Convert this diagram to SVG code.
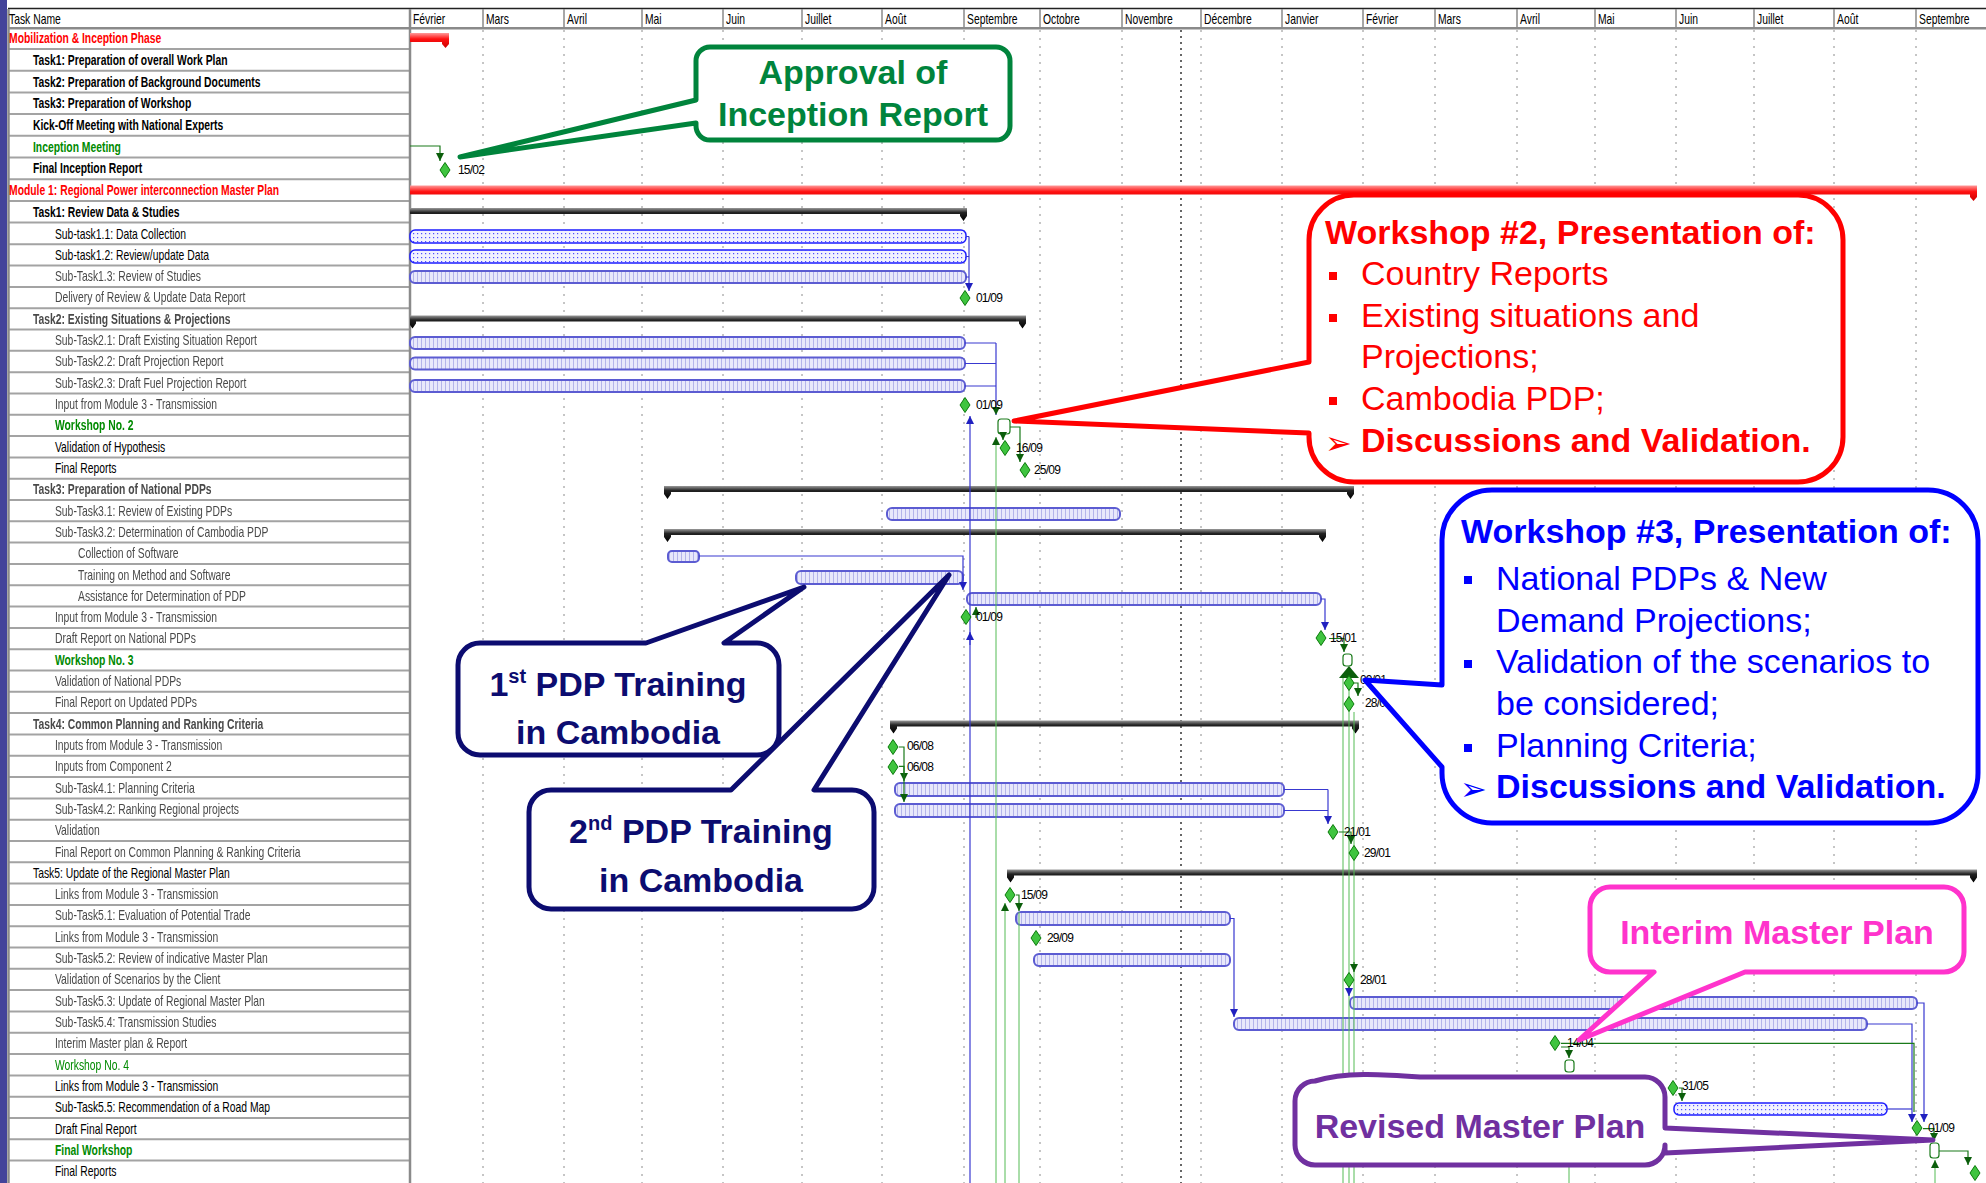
<svg xmlns="http://www.w3.org/2000/svg" width="1986" height="1183" viewBox="0 0 1986 1183">
<defs>
<style>
text{font-family:"Liberation Sans",Arial,sans-serif}
.tn{font-size:14px}
.b{font-weight:bold}
.red{fill:#ff0000}
.grn{fill:#008a00}
.dim{fill:#4a4a4a;filter:url(#soft)}
.mon{font-size:14px;fill:#000}
.dl{font-size:12px;fill:#000;letter-spacing:-0.8px}
.grid{fill:none;stroke:#8c8c8c;stroke-width:1;stroke-dasharray:2 6}
.rowl{fill:none;stroke:#a3a3a3;stroke-width:2}
.bar{stroke:#1e1eff;stroke-width:1.5;fill:url(#dots)}
.barS{stroke:#5b5bd2;stroke-width:2;fill:url(#hatch);filter:url(#soft)}
.sum{fill:url(#gBlack)}
.sumR{fill:url(#gRed)}
.lnB{fill:none;stroke:#3838d0;stroke-width:1.2}
.lnG{fill:none;stroke:#1a7a1a;stroke-width:1.2}
.lnLG{fill:none;stroke:#55bb55;stroke-width:1}
.co{fill:#fff;stroke-width:5;stroke-linejoin:round}
.ct{font-size:34px;font-weight:bold}
.cr{font-size:34px}
.arw{font-family:"DejaVu Sans",sans-serif;font-size:32px}
</style>
<filter id="soft" x="-5%" y="-20%" width="110%" height="140%"><feGaussianBlur stdDeviation="0.6"/></filter>
<pattern id="dots" width="4" height="4" patternUnits="userSpaceOnUse"><rect width="4" height="4" fill="#f2f2ff"/><rect x="1" y="1" width="1.2" height="1.2" fill="#5050ff"/></pattern>
<pattern id="hatch" width="4" height="4" patternUnits="userSpaceOnUse"><rect width="4" height="4" fill="#e8e8fb"/><rect x="1" width="1" height="4" fill="#b4b4ea"/></pattern>
<linearGradient id="gBlack" x1="0" y1="0" x2="0" y2="1"><stop offset="0" stop-color="#9a9a9a"/><stop offset="0.35" stop-color="#222"/><stop offset="1" stop-color="#000"/></linearGradient>
<linearGradient id="gRed" x1="0" y1="0" x2="0" y2="1"><stop offset="0" stop-color="#ff9a9a"/><stop offset="0.4" stop-color="#ff1010"/><stop offset="1" stop-color="#cc0000"/></linearGradient>
<marker id="aB" viewBox="0 0 10 10" refX="10" refY="5" markerWidth="8" markerHeight="8" markerUnits="userSpaceOnUse" orient="auto"><path d="M0,0 L10,5 L0,10 Z" fill="#2020c0"/></marker>
<marker id="aG" viewBox="0 0 10 10" refX="10" refY="5" markerWidth="8" markerHeight="8" markerUnits="userSpaceOnUse" orient="auto"><path d="M0,0 L10,5 L0,10 Z" fill="#0b5e0b"/></marker>
<path id="ms" d="M0,-7.5 L5,0 L0,7.5 L-5,0 Z" fill="#3fc43f" stroke="#0a7a0a" stroke-width="1"/>
</defs>

<rect width="1986" height="1183" fill="#fff"/>
<rect x="0" y="0" width="7" height="1183" fill="#43439a"/>

<!-- table frame and row rules -->
<g id="table-frame">
<path d="M8,8.5H1986" stroke="#222" stroke-width="1.5" fill="none"/>
<path d="M8,28.3H1986" stroke="#8a8a8a" stroke-width="2.5" fill="none"/>
<path class="rowl" d="M8,49H410M8,70.7H410M8,92.4H410M8,114.1H410M8,135.8H410M8,157.5H410M8,179.2H410M8,200.9H410M8,222.6H410M8,244.3H410M8,265.6H410M8,286.9H410M8,308.2H410M8,329.5H410M8,350.8H410M8,372.2H410M8,393.5H410M8,414.8H410M8,436.1H410M8,457.4H410M8,478.7H410M8,500H410M8,521.3H410M8,542.6H410M8,563.9H410M8,585.3H410M8,606.6H410M8,627.9H410M8,649.2H410M8,670.5H410M8,691.8H410M8,713.1H410M8,734.4H410M8,755.7H410M8,777H410M8,798.4H410M8,819.7H410M8,841H410M8,862.3H410M8,883.6H410M8,904.9H410M8,926.2H410M8,947.5H410M8,968.8H410M8,990.1H410M8,1011.5H410M8,1032.8H410M8,1054.1H410M8,1075.4H410M8,1096.7H410M8,1118H410M8,1139.3H410M8,1160.6H410"/>
<path d="M8.5,9V1183M410,9V1183" stroke="#8a8a8a" stroke-width="2.5" fill="none"/>
<path d="M483,9V28M564,9V28M642,9V28M723,9V28M802,9V28M882,9V28M964,9V28M1040,9V28M1122,9V28M1201,9V28M1282,9V28M1363,9V28M1435,9V28M1517,9V28M1595,9V28M1676,9V28M1754,9V28M1834,9V28M1916,9V28" stroke="#8a8a8a" stroke-width="1.5" fill="none"/>
<path class="grid" d="M483,30V1183M564,30V1183M642,30V1183M723,30V1183M802,30V1183M882,30V1183M964,30V1183M1040,30V1183M1122,30V1183M1201,30V1183M1282,30V1183M1363,30V1183M1435,30V1183M1517,30V1183M1595,30V1183M1676,30V1183M1754,30V1183M1834,30V1183M1916,30V1183"/>
<path d="M1181,30V1183" stroke="#666" stroke-width="2" stroke-dasharray="2 4" fill="none"/>
</g>

<!-- month header -->
<g id="timescale">
<text class="mon" transform="translate(413,24) scale(0.74,1)">Février</text>
<text class="mon" transform="translate(486,24) scale(0.74,1)">Mars</text>
<text class="mon" transform="translate(567,24) scale(0.74,1)">Avril</text>
<text class="mon" transform="translate(645,24) scale(0.74,1)">Mai</text>
<text class="mon" transform="translate(726,24) scale(0.74,1)">Juin</text>
<text class="mon" transform="translate(805,24) scale(0.74,1)">Juillet</text>
<text class="mon" transform="translate(885,24) scale(0.74,1)">Août</text>
<text class="mon" transform="translate(967,24) scale(0.74,1)">Septembre</text>
<text class="mon" transform="translate(1043,24) scale(0.74,1)">Octobre</text>
<text class="mon" transform="translate(1125,24) scale(0.74,1)">Novembre</text>
<text class="mon" transform="translate(1204,24) scale(0.74,1)">Décembre</text>
<text class="mon" transform="translate(1285,24) scale(0.74,1)">Janvier</text>
<text class="mon" transform="translate(1366,24) scale(0.74,1)">Février</text>
<text class="mon" transform="translate(1438,24) scale(0.74,1)">Mars</text>
<text class="mon" transform="translate(1520,24) scale(0.74,1)">Avril</text>
<text class="mon" transform="translate(1598,24) scale(0.74,1)">Mai</text>
<text class="mon" transform="translate(1679,24) scale(0.74,1)">Juin</text>
<text class="mon" transform="translate(1757,24) scale(0.74,1)">Juillet</text>
<text class="mon" transform="translate(1837,24) scale(0.74,1)">Août</text>
<text class="mon" transform="translate(1919,24) scale(0.74,1)">Septembre</text>
</g>

<!-- task names (condensed) -->
<g id="task-names" transform="scale(0.74,1)">
<text class="tn" x="12.2" y="24">Task Name</text>
<text class="tn b red" x="12.2" y="43.3">Mobilization &amp; Inception Phase</text>
<text class="tn b" x="44.6" y="65">Task1: Preparation of overall Work Plan</text>
<text class="tn b" x="44.6" y="86.7">Task2: Preparation of Background Documents</text>
<text class="tn b" x="44.6" y="108.4">Task3: Preparation of Workshop</text>
<text class="tn b" x="44.6" y="130.1">Kick-Off Meeting with National Experts</text>
<text class="tn b grn" x="44.6" y="151.8">Inception Meeting</text>
<text class="tn b" x="44.6" y="173.5">Final Inception Report</text>
<text class="tn b red" x="12.2" y="195.2">Module 1: Regional Power interconnection Master Plan</text>
<text class="tn b" x="44.6" y="216.9">Task1: Review Data &amp; Studies</text>
<text class="tn" x="74.3" y="238.6">Sub-task1.1: Data Collection</text>
<text class="tn" x="74.3" y="259.9">Sub-task1.2: Review/update Data</text>
<g class="dim">
<text class="tn" x="74.3" y="281.2">Sub-Task1.3: Review of Studies</text>
<text class="tn" x="74.3" y="302.5">Delivery of Review &amp; Update Data Report</text>
<text class="tn b" x="44.6" y="323.8">Task2: Existing Situations &amp; Projections</text>
<text class="tn" x="74.3" y="345.2">Sub-Task2.1: Draft Existing Situation Report</text>
<text class="tn" x="74.3" y="366.5">Sub-Task2.2: Draft Projection Report</text>
<text class="tn" x="74.3" y="387.8">Sub-Task2.3: Draft Fuel Projection Report</text>
<text class="tn" x="74.3" y="409.1">Input from Module 3 - Transmission</text>
<text class="tn b grn" x="74.3" y="430.4">Workshop No. 2</text>
</g>
<text class="tn" x="74.3" y="451.7">Validation of Hypothesis</text>
<text class="tn" x="74.3" y="473">Final Reports</text>
<g class="dim">
<text class="tn b" x="44.6" y="494.3">Task3: Preparation of National PDPs</text>
<text class="tn" x="74.3" y="515.6">Sub-Task3.1: Review of Existing PDPs</text>
<text class="tn" x="74.3" y="536.9">Sub-Task3.2: Determination of Cambodia PDP</text>
<text class="tn" x="105.4" y="558.3">Collection of Software</text>
<text class="tn" x="105.4" y="579.6">Training on Method and Software</text>
<text class="tn" x="105.4" y="600.9">Assistance for Determination of PDP</text>
<text class="tn" x="74.3" y="622.2">Input from Module 3 - Transmission</text>
<text class="tn" x="74.3" y="643.5">Draft Report on National PDPs</text>
</g>
<text class="tn b grn" x="74.3" y="664.8">Workshop No. 3</text>
<g class="dim">
<text class="tn" x="74.3" y="686.1">Validation of National PDPs</text>
<text class="tn" x="74.3" y="707.4">Final Report on Updated PDPs</text>
<text class="tn b" x="44.6" y="728.7">Task4: Common Planning and Ranking Criteria</text>
<text class="tn" x="74.3" y="750">Inputs from Module 3 - Transmission</text>
<text class="tn" x="74.3" y="771.4">Inputs from Component 2</text>
<text class="tn" x="74.3" y="792.7">Sub-Task4.1: Planning Criteria</text>
<text class="tn" x="74.3" y="814">Sub-Task4.2: Ranking Regional projects</text>
<text class="tn" x="74.3" y="835.3">Validation</text>
<text class="tn" x="74.3" y="856.6">Final Report on Common Planning &amp; Ranking Criteria</text>
</g>
<text class="tn" x="44.6" y="877.9">Task5: Update of the Regional Master Plan</text>
<g class="dim">
<text class="tn" x="74.3" y="899.2">Links from Module 3 - Transmission</text>
<text class="tn" x="74.3" y="920.5">Sub-Task5.1: Evaluation of Potential Trade</text>
<text class="tn" x="74.3" y="941.8">Links from Module 3 - Transmission</text>
<text class="tn" x="74.3" y="963.1">Sub-Task5.2: Review of indicative Master Plan</text>
<text class="tn" x="74.3" y="984.4">Validation of Scenarios by the Client</text>
<text class="tn" x="74.3" y="1005.8">Sub-Task5.3: Update of Regional Master Plan</text>
<text class="tn" x="74.3" y="1027.1">Sub-Task5.4: Transmission Studies</text>
<text class="tn" x="74.3" y="1048.4">Interim Master plan &amp; Report</text>
<text class="tn grn" x="74.3" y="1069.7">Workshop No. 4</text>
</g>
<text class="tn" x="74.3" y="1091">Links from Module 3 - Transmission</text>
<text class="tn" x="74.3" y="1112.3">Sub-Task5.5: Recommendation of a Road Map</text>
<text class="tn" x="74.3" y="1133.6">Draft Final Report</text>
<text class="tn b grn" x="74.3" y="1154.9">Final Workshop</text>
<text class="tn" x="74.3" y="1176.2">Final Reports</text>
</g>

<!-- summary bars -->
<g id="summary-bars">
<path id="sum-mobilization" class="sumR" d="M410,33H448V42H410Z M442,33H449V44L445.5,48L442,44Z"/>
<path id="sum-module1" class="sumR" d="M410,185.5H1976V194.5H410Z M1970,185.5H1977V197L1973.5,201L1970,197Z"/>
<path id="sum-task1" class="sum" d="M410,208H966V214H410Z M960,208H967V216L963.5,221L960,216Z"/>
<path id="sum-task2" class="sum" d="M410,315.5H1025V321.5H410Z M410,315.5H416V323.5L412.5,328.5L410,325Z M1019,315.5H1026V323.5L1022.5,328.5L1019,323.5Z"/>
<path id="sum-task3" class="sum" d="M667,486H1353V492H667Z M664,486H671V494L667.5,499L664,494Z M1347,486H1354V494L1350.5,499L1347,494Z"/>
<path id="sum-task3-2" class="sum" d="M667,529H1325V535H667Z M664,529H671V537L667.5,542L664,537Z M1319,529H1326V537L1322.5,542L1319,537Z"/>
<path id="sum-task4" class="sum" d="M893,720.5H1358V726.5H893Z M890,720.5H897V728.5L893.5,733.5L890,728.5Z M1352,720.5H1359V728.5L1355.5,733.5L1352,728.5Z"/>
<path id="sum-task5" class="sum" d="M1010,869.5H1976V875.5H1010Z M1007,869.5H1014V877.5L1010.5,882.5L1007,877.5Z M1970,869.5H1977V877.5L1973.5,882.5L1970,877.5Z"/>
</g>

<!-- task bars -->
<g id="task-bars">
<rect id="bar-1-1" class="bar" x="410" y="230" width="556" height="13" rx="5"/>
<rect id="bar-1-2" class="bar" x="410" y="250" width="556" height="13" rx="5"/>
<rect id="bar-1-3" class="barS" x="410" y="271" width="556" height="12" rx="5"/>
<rect id="bar-2-1" class="barS" x="410" y="337" width="555" height="12" rx="5"/>
<rect id="bar-2-2" class="barS" x="410" y="357.5" width="555" height="12" rx="5"/>
<rect id="bar-2-3" class="barS" x="410" y="380" width="555" height="12" rx="5"/>
<rect id="bar-3-1" class="barS" x="887" y="508" width="233" height="12" rx="5"/>
<rect id="bar-collection" class="barS" x="668" y="551" width="31" height="11" rx="4"/>
<rect id="bar-training" class="barS" x="796" y="571" width="167" height="13" rx="5"/>
<rect id="bar-assistance" class="barS" x="967" y="593" width="354" height="12" rx="5"/>
<rect id="bar-4-1" class="barS" x="895" y="783" width="389" height="13" rx="5"/>
<rect id="bar-4-2" class="barS" x="895" y="804" width="389" height="13" rx="5"/>
<rect id="bar-5-1" class="barS" x="1016" y="912" width="214" height="13" rx="5"/>
<rect id="bar-5-2" class="barS" x="1034" y="954" width="196" height="12" rx="5"/>
<rect id="bar-5-3" class="barS" x="1350" y="997" width="567" height="12" rx="5"/>
<rect id="bar-5-4" class="barS" x="1234" y="1018" width="633" height="12" rx="5"/>
<rect id="bar-5-5" class="bar" x="1674" y="1103" width="213" height="12" rx="5"/>
</g>

<!-- links between tasks -->
<g id="connectors">
<path class="lnG" d="M410,146H440V161" marker-end="url(#aG)"/>
<path class="lnB" d="M966,236.5H969M966,256.5H969M966,277H969"/>
<path class="lnB" d="M969,236.5V291" marker-end="url(#aB)"/>
<path class="lnB" d="M965,343H996M965,363.5H996M965,386H996"/>
<path class="lnB" d="M996,343V415" marker-end="url(#aG)"/>
<path class="lnB" d="M970,1183V416" marker-end="url(#aB)"/>
<path class="lnB" d="M970,645V632" marker-end="url(#aB)"/>
<rect x="998" y="419" width="12" height="15" rx="3" fill="none" stroke="#1a7a1a" stroke-width="1.2"/>
<path class="lnG" d="M1010,427H1020V462" marker-end="url(#aG)"/>
<path class="lnG" d="M1003,434V440" marker-end="url(#aG)"/>
<path class="lnLG" d="M996,1183V437" marker-end="url(#aG)"/>
<path class="lnB" d="M699,556H963V590" marker-end="url(#aB)"/>
<path class="lnG" d="M976,618V607" marker-end="url(#aG)"/>
<path class="lnB" d="M1321,599H1325V630" marker-end="url(#aB)"/>
<path class="lnG" d="M1329,638.5H1344V652" marker-end="url(#aG)"/>
<rect x="1343" y="654" width="9" height="12" rx="3" fill="none" stroke="#1a7a1a" stroke-width="1.2"/>
<path d="M1339,678H1359L1349,666Z" fill="#0b5e0b"/>
<path class="lnG" d="M1352,683H1358V696" marker-end="url(#aG)"/>
<path class="lnLG" d="M1343,678V1183M1349,690V1183M1354,712V1183"/>
<path class="lnG" d="M899,747H904V781" marker-end="url(#aG)"/>
<path class="lnG" d="M899,766.4H904V802" marker-end="url(#aG)"/>
<path class="lnB" d="M1284,789.5H1328M1284,810.5H1328"/>
<path class="lnB" d="M1328,789.5V824" marker-end="url(#aB)"/>
<path class="lnG" d="M1339,832H1351V844" marker-end="url(#aG)"/>
<path class="lnLG" d="M1005,1183V903" marker-end="url(#aG)"/>
<path class="lnG" d="M1016,895H1019V911" marker-end="url(#aG)"/>
<path class="lnLG" d="M1019,912V1183"/>
<path class="lnB" d="M1230,918.5H1234V1017" marker-end="url(#aB)"/>
<path class="lnG" d="M1354,962V972" marker-end="url(#aG)"/>
<path class="lnB" d="M1349,986V996" marker-end="url(#aB)"/>
<path class="lnB" d="M1917,1003H1924V1122" stroke="#8f8fe6" marker-end="url(#aB)"/>
<path class="lnB" d="M1867,1024H1912V1122" marker-end="url(#aB)"/>
<path class="lnB" d="M1887,1109H1912"/>
<path class="lnG" d="M1561,1043.4H1914V1112"/>
<path class="lnG" d="M1561,1047H1569V1058" marker-end="url(#aG)"/>
<rect x="1565" y="1060" width="9" height="12" rx="3" fill="none" stroke="#1a7a1a" stroke-width="1.2"/>
<path class="lnLG" d="M1569,1183V1075" marker-end="url(#aG)"/>
<path class="lnG" d="M1679,1088H1682V1101" marker-end="url(#aG)"/>
<path class="lnG" d="M1923,1128.6H1934V1141" marker-end="url(#aG)"/>
<rect x="1930" y="1143" width="9" height="15" rx="3" fill="none" stroke="#1a7a1a" stroke-width="1.2"/>
<path class="lnLG" d="M1935,1183V1160" marker-end="url(#aG)"/>
<path class="lnG" d="M1939,1151H1968V1165" marker-end="url(#aG)"/>
</g>

<!-- milestones -->
<g id="milestones">
<use href="#ms" x="445" y="170"/><text class="dl" x="458" y="174">15/02</text>
<use href="#ms" x="965" y="298"/><text class="dl" x="976" y="302">01/09</text>
<use href="#ms" x="965" y="405"/><text class="dl" x="976" y="409">01/09</text>
<use href="#ms" x="1005" y="448"/><text class="dl" x="1016" y="452">16/09</text>
<use href="#ms" x="1025" y="470"/><text class="dl" x="1034" y="474">25/09</text>
<use href="#ms" x="966" y="617"/><text class="dl" x="976" y="621">01/09</text>
<use href="#ms" x="1321" y="638"/><text class="dl" x="1330" y="642">15/01</text>
<use href="#ms" x="1349" y="683"/><text class="dl" x="1360" y="684" font-size="9">09/01</text>
<use href="#ms" x="1349" y="704"/><text class="dl" x="1365" y="707">28/01</text>
<use href="#ms" x="893" y="747"/><text class="dl" x="907" y="750">06/08</text>
<use href="#ms" x="893" y="767"/><text class="dl" x="907" y="771">06/08</text>
<use href="#ms" x="1333" y="832"/><text class="dl" x="1344" y="836">21/01</text>
<use href="#ms" x="1354" y="853"/><text class="dl" x="1364" y="857">29/01</text>
<use href="#ms" x="1010" y="895"/><text class="dl" x="1021" y="899">15/09</text>
<use href="#ms" x="1036" y="938"/><text class="dl" x="1047" y="942">29/09</text>
<use href="#ms" x="1349" y="980"/><text class="dl" x="1360" y="984">28/01</text>
<use href="#ms" x="1555" y="1043"/><text class="dl" x="1567" y="1047">14/04</text>
<use href="#ms" x="1673" y="1088"/><text class="dl" x="1682" y="1090">31/05</text>
<use href="#ms" x="1917" y="1128"/><text class="dl" x="1928" y="1132">01/09</text>
<use href="#ms" x="1975" y="1173"/>
</g>

<!-- callouts -->
<g id="callout-approval">
<path class="co" stroke="#00843c" d="M710,47H996A14,14 0 0 1 1010,61V126A14,14 0 0 1 996,140H710A14,14 0 0 1 696,126V123L460,157L696,100V61A14,14 0 0 1 710,47Z"/>
<text class="ct" fill="#00843c" x="853" y="84" text-anchor="middle">Approval of</text>
<text class="ct" fill="#00843c" x="853" y="126" text-anchor="middle">Inception Report</text>
</g>

<g id="callout-workshop2">
<path class="co" stroke="#ff0000" d="M1354,195H1798A45,45 0 0 1 1843,240V437A45,45 0 0 1 1798,482H1354A45,45 0 0 1 1309,437V433L1014,421L1309,362V240A45,45 0 0 1 1354,195Z"/>
<g fill="#ff0000">
<text class="ct" x="1325" y="244">Workshop #2, Presentation of:</text>
<rect x="1329" y="272" width="8" height="8"/>
<text class="cr" x="1361" y="285">Country Reports</text>
<rect x="1329" y="314" width="8" height="8"/>
<text class="cr" x="1361" y="327">Existing situations and</text>
<text class="cr" x="1361" y="368">Projections;</text>
<rect x="1329" y="397" width="8" height="8"/>
<text class="cr" x="1361" y="410">Cambodia PDP;</text>
<text class="arw" x="1325" y="454">➢</text>
<text class="ct" x="1361" y="452">Discussions and Validation.</text>
</g>
</g>

<g id="callout-workshop3">
<path class="co" stroke="#0000ff" d="M1492,490H1928A50,50 0 0 1 1978,540V773A50,50 0 0 1 1928,823H1492A50,50 0 0 1 1442,773V767L1365,680L1442,685V540A50,50 0 0 1 1492,490Z"/>
<g fill="#0000ff">
<text class="ct" x="1461" y="543">Workshop #3, Presentation of:</text>
<rect x="1464" y="576" width="8" height="8"/>
<text class="cr" x="1496" y="590">National PDPs &amp; New</text>
<text class="cr" x="1496" y="632">Demand Projections;</text>
<rect x="1464" y="660" width="8" height="8"/>
<text class="cr" x="1496" y="673">Validation of the scenarios to</text>
<text class="cr" x="1496" y="715">be considered;</text>
<rect x="1464" y="744" width="8" height="8"/>
<text class="cr" x="1496" y="757">Planning Criteria;</text>
<text class="arw" x="1460" y="800">➢</text>
<text class="ct" x="1496" y="798">Discussions and Validation.</text>
</g>
</g>

<g id="callout-training1">
<path class="co" stroke="#0c0c70" stroke-width="4" d="M480,643H646L804,587L724,643H757A22,22 0 0 1 779,665V733A22,22 0 0 1 757,755H480A22,22 0 0 1 458,733V665A22,22 0 0 1 480,643Z"/>
<text class="ct" fill="#0c0c70" x="618" y="696" text-anchor="middle">1<tspan font-size="20" dy="-13">st</tspan><tspan dy="13"> PDP Training</tspan></text>
<text class="ct" fill="#0c0c70" x="618" y="744" text-anchor="middle">in Cambodia</text>
</g>

<g id="callout-training2">
<path class="co" stroke="#0c0c70" stroke-width="4" d="M551,790H731L949,575L814,790H852A22,22 0 0 1 874,812V887A22,22 0 0 1 852,909H551A22,22 0 0 1 529,887V812A22,22 0 0 1 551,790Z"/>
<text class="ct" fill="#0c0c70" x="701" y="843" text-anchor="middle">2<tspan font-size="20" dy="-13">nd</tspan><tspan dy="13"> PDP Training</tspan></text>
<text class="ct" fill="#0c0c70" x="701" y="892" text-anchor="middle">in Cambodia</text>
</g>

<g id="callout-interim">
<path class="co" stroke="#ff33cc" d="M1610,887H1944A20,20 0 0 1 1964,907V952A20,20 0 0 1 1944,972H1745L1579,1040L1654,972H1610A20,20 0 0 1 1590,952V907A20,20 0 0 1 1610,887Z"/>
<text class="ct" fill="#ff33cc" x="1777" y="944" text-anchor="middle">Interim Master Plan</text>
</g>

<g id="callout-revised">
<path class="co" stroke="#7030a0" d="M1315,1081C1345,1072 1380,1074 1420,1077H1645A20,20 0 0 1 1665,1097V1128L1933,1140L1665,1153V1145A20,20 0 0 1 1645,1165H1315A20,20 0 0 1 1295,1145V1101A20,20 0 0 1 1315,1081Z"/>
<text class="ct" fill="#7030a0" x="1480" y="1138" text-anchor="middle">Revised Master Plan</text>
</g>
</svg>
